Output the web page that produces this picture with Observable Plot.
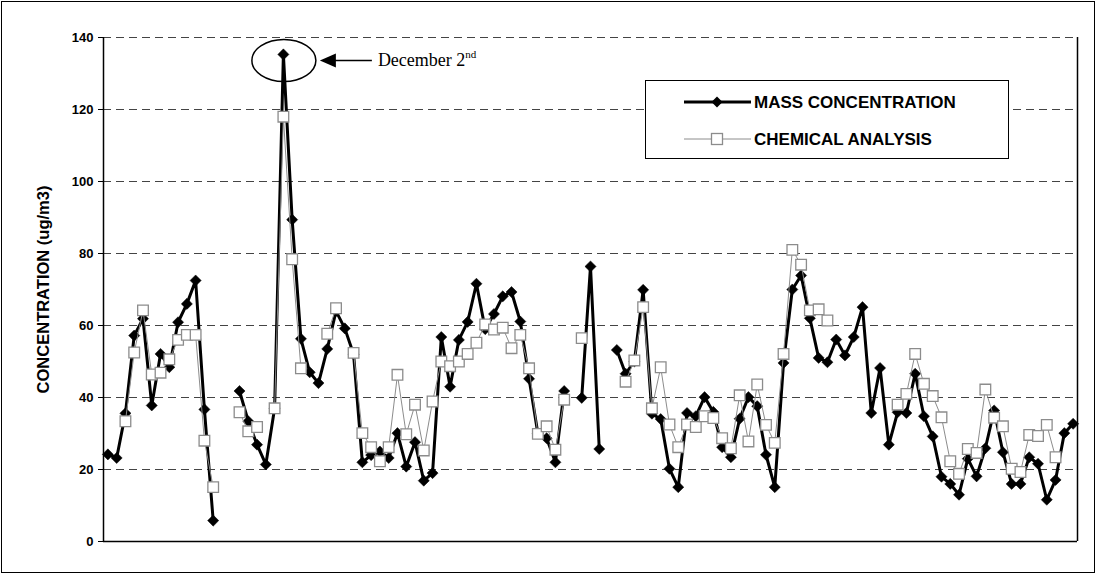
<!DOCTYPE html>
<html><head><meta charset="utf-8">
<script src="https://cdn.jsdelivr.net/npm/d3@7"></script>
<script src="https://cdn.jsdelivr.net/npm/@observablehq/plot@0.6"></script>
<style>
body{margin:0;background:#fff;}
#wrap{position:relative;width:1096px;height:574px;overflow:hidden;background:#fff;}
#frame{position:absolute;left:1px;top:1px;width:1092px;height:570px;border:1px solid #000;pointer-events:none;}
#legend{position:absolute;left:645px;top:80px;width:362px;height:77px;border:1px solid #000;background:#fff;}
</style></head><body><div id="wrap"><div id="frame"></div></div>
<script>
// MASS CONCENTRATION (ug/m3), one value per sampling day; null = no sample
const mass = [24.2,23.2,35.6,57.2,61.9,37.8,52.1,48.4,60.9,66,72.5,36.7,5.8,null,null,
  41.8,33.4,26.9,21.4,37,135.3,89.4,56.3,47,44,53.5,64,59.2,52,22,
  24,25,23.2,30.1,20.8,27.6,16.9,19,56.8,43,56,61,71.6,59,63.2,
  68.1,69.3,61.1,45.2,30,28.7,22,41.8,null,39.9,76.4,25.7,null,53.2,46.6,
  50,69.9,35.5,34,20.2,15.1,35.7,34.8,40.1,36,26.2,23.4,34.1,40.1,37.6,
  24.1,15.1,49.6,70,73.9,62,51,49.8,56.1,51.7,56.8,65.1,35.7,48.2,26.9,
  35.9,35.7,46.6,34.8,29.2,18,16,13,23,18.1,25.9,36.4,24.8,16,16,
  23.4,21.6,11.6,17.1,30.1,32.7];
// CHEMICAL ANALYSIS (reconstructed mass), null = not analysed
const chem = [null,null,33.4,52.5,64.2,46.4,46.9,50.6,56,57.4,57.4,28,15.1,null,null,
  35.9,30.6,31.8,null,37,118,78.4,48.1,null,null,57.7,64.8,null,52.4,30.1,
  26.2,22.3,26.2,46.3,29.8,38,25.3,38.9,50,48.7,50,52.1,55.2,60.3,58.9,
  59.4,53.7,57.4,48.1,29.9,32,25.5,39.4,null,56.5,null,null,null,null,44.4,
  50.3,65.1,37,48.4,32.5,26.2,32.5,31.8,34.8,34.3,28.7,25.9,40.6,27.8,43.6,
  32.4,27.4,52.1,81,76.9,64.2,64.5,61.4,null,null,null,null,null,null,null,
  38,41,52.1,43.8,40.4,34.5,22.3,18.8,25.7,24.6,42.2,34.4,32,20.2,19.3,
  29.6,29.3,32.4,23.4,null,null];
const yTicks = [0,20,40,60,80,100,120,140];
const seriesNames = ["MASS CONCENTRATION","CHEMICAL ANALYSIS"];
const yTitle = "CONCENTRATION (ug/m3)";
const peakLabel = ["December 2", "nd"];

const num = v => v == null ? NaN : v;
const data = mass.map((m, i) => ({i, mass: num(m), chem: num(chem[i])}));
const n = mass.length;
const peakIndex = mass.indexOf(d3.max(mass));

const arial = "'Liberation Sans', Arial, sans-serif";
const plot = Plot.plot({
  width: 1096, height: 574,
  marginLeft: 103, marginRight: 19, marginTop: 37, marginBottom: 33,
  style: {fontFamily: arial, fontSize: "13px", fontWeight: "bold", color: "#000", background: "transparent"},
  x: {domain: [-0.5, n - 0.5], axis: null},
  y: {domain: [0, 140], ticks: yTicks, tickSize: 5, tickPadding: 5, label: null, tickFormat: d => String(d)},
  marks: [
    Plot.ruleY(yTicks.slice(1), {stroke: "#444", strokeWidth: 1, strokeDasharray: "8,5"}),
    Plot.ruleY([0], {stroke: "#000", strokeWidth: 1.5}),
    Plot.ruleX([-0.5, n - 0.5], {stroke: "#000", strokeWidth: 1.5}),
    Plot.line(data, {x: "i", y: "mass", stroke: "#000", strokeWidth: 3}),
    Plot.dot(data.filter(d => !isNaN(d.mass)), {x: "i", y: "mass", symbol: "diamond2", r: 5, fill: "#000", stroke: "#000", strokeWidth: 0.5}),
    Plot.line(data, {x: "i", y: "chem", stroke: "#8c8c8c", strokeWidth: 1}),
    Plot.dot(data.filter(d => !isNaN(d.chem)), {x: "i", y: "chem", symbol: "square", r: 6, fill: "#fff", stroke: "#8c8c8c", strokeWidth: 1.3}),
    Plot.text([yTitle], {frameAnchor: "left", dx: -60, rotate: -90, textAnchor: "middle", fontSize: 16.5, fontWeight: "bold", fill: "#000"})
  ]
});
document.getElementById("wrap").appendChild(plot);

// Annotation around the December 2nd peak, positioned from the plot's scales
const sx = plot.scale("x"), sy = plot.scale("y");
const px = sx.apply(peakIndex), py = sy.apply(mass[peakIndex]);
const svg = d3.select(plot);
const ann = svg.append("g").attr("text-anchor", "start");
ann.append("ellipse").attr("cx", px + 1).attr("cy", py + 6.5).attr("rx", 32).attr("ry", 21)
  .attr("fill", "none").attr("stroke", "#000").attr("stroke-width", 1.5);
const ay = py + 6.5;
ann.append("line").attr("x1", px + 50).attr("x2", px + 89).attr("y1", ay).attr("y2", ay)
  .attr("stroke", "#000").attr("stroke-width", 1.5);
ann.append("path").attr("d", `M${px + 37},${ay} L${px + 53},${ay - 7} L${px + 53},${ay + 7} Z`).attr("fill", "#000");
const t = ann.append("text").attr("x", px + 95).attr("y", ay + 6).attr("text-anchor", "start")
  .attr("font-family", "'Liberation Serif', 'Times New Roman', serif").attr("font-size", 18)
  .attr("font-weight", "normal").attr("fill", "#000");
t.append("tspan").text(peakLabel[0]);
t.append("tspan").attr("font-size", 11).attr("dy", -8).text(peakLabel[1]);

// Legend box
const lg = d3.select("#wrap").append("div").attr("id", "legend");
const ls = lg.append("svg").attr("width", 362).attr("height", 77);
const rows = [
  {name: seriesNames[0], y: 21, stroke: "#000", sw: 3},
  {name: seriesNames[1], y: 58, stroke: "#8c8c8c", sw: 1}
];
rows.forEach((r, k) => {
  ls.append("line").attr("x1", 38).attr("x2", 105).attr("y1", r.y).attr("y2", r.y)
    .attr("stroke", r.stroke).attr("stroke-width", r.sw);
  if (k === 0) {
    const s = 5.5;
    ls.append("path").attr("d", `M71,${r.y - s} L${71 + s},${r.y} L71,${r.y + s} L${71 - s},${r.y} Z`).attr("fill", "#000");
  } else {
    ls.append("rect").attr("x", 71 - 5.5).attr("y", r.y - 5.5).attr("width", 11).attr("height", 11)
      .attr("fill", "#fff").attr("stroke", "#8c8c8c").attr("stroke-width", 1.3);
  }
  ls.append("text").attr("x", 108).attr("y", r.y + 6).attr("font-family", arial)
    .attr("font-size", 17).attr("font-weight", "bold").attr("fill", "#000").text(r.name);
});
</script>
</body></html>
